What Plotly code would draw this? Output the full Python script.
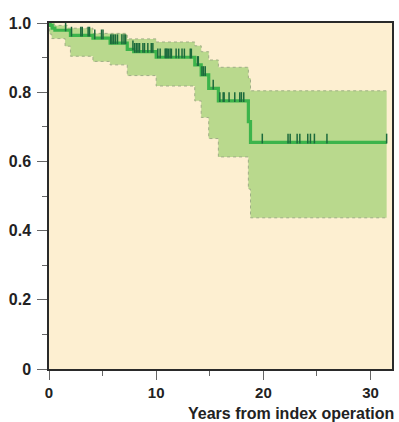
import numpy as np
import plotly.graph_objects as go

# Kaplan-Meier estimate (step times, survival)
km_t = [0, 0.1, 0.3, 0.55, 2.0, 4.1, 5.7, 7.3, 7.9, 10.0, 13.6, 14.2, 14.9, 15.8, 18.6, 18.8, 31.5]
km_s = [1.0, 0.993, 0.985, 0.979, 0.964, 0.956, 0.942, 0.924, 0.917, 0.901, 0.879, 0.850, 0.811, 0.775, 0.715, 0.655, 0.655]

# Upper confidence limit
up_t = [0, 0.5, 1.7, 4.1, 7.2, 7.3, 10.0, 13.6, 14.2, 14.9, 15.8, 18.6, 18.8, 31.5]
up_s = [1.0, 0.993, 0.985, 0.970, 0.965, 0.954, 0.945, 0.934, 0.917, 0.893, 0.872, 0.841, 0.804, 0.804]

# Lower confidence limit
lo_t = [0, 0.05, 0.25, 1.5, 2.0, 4.1, 5.7, 7.3, 10.0, 13.6, 14.2, 14.9, 15.8, 18.6, 18.8, 31.5]
lo_s = [1.0, 0.968, 0.955, 0.933, 0.904, 0.889, 0.879, 0.848, 0.818, 0.775, 0.727, 0.666, 0.613, 0.52, 0.437, 0.437]

# Censored observations (years)
cens_t = [1.55, 2.1, 2.97, 3.1, 3.65, 3.78, 4.27, 4.9, 5.04, 5.76, 5.88, 6.04, 6.2, 6.39,
          6.8, 7.0, 7.15, 7.83, 7.99, 8.15, 8.3, 8.45, 8.76, 8.91, 9.22, 9.54, 9.69,
          10.15, 10.37, 10.84, 10.93, 11.02, 11.14, 11.3, 11.42, 11.86, 12.1, 12.41, 12.63,
          13.18, 13.28, 13.86, 13.93, 14.27, 14.42, 14.58, 15.32, 15.94, 16.25, 16.34,
          16.8, 17.33, 17.8, 17.95, 18.17, 19.9, 22.3, 22.5, 23.15, 23.4, 24.14, 24.39,
          24.76, 25.93, 31.5]

x_ticks = [0, 10, 20, 30]
x_ticktext = ["0", "10", "20", "30"]
y_ticks = [0, 0.2, 0.4, 0.6, 0.8, 1.0]
y_ticktext = ["0", "0.2", "0.4", "0.6", "0.8", "1.0"]

# survival at censor times from step function
idx = np.searchsorted(np.array(km_t), np.array(cens_t), side="right") - 1
cens_s = np.array(km_s)[idx] + 0.011

band_line = dict(color="#9fae86", width=1, dash="dot", shape="hv")

fig = go.Figure()
fig.add_trace(go.Scatter(x=up_t, y=up_s, mode="lines", line=band_line, hoverinfo="skip", showlegend=False))
fig.add_trace(go.Scatter(x=lo_t, y=lo_s, mode="lines", line=band_line, fill="tonexty",
                         fillcolor="#b9d98d", hoverinfo="skip", showlegend=False))
fig.add_trace(go.Scatter(x=km_t, y=km_s, mode="lines", line=dict(color="#3cb44b", width=3.2, shape="hv"),
                         cliponaxis=False, showlegend=False))
fig.add_trace(go.Scatter(x=cens_t, y=cens_s, mode="markers",
                         marker=dict(symbol="line-ns", size=7, line=dict(color="#1c6a3c", width=1.5)),
                         showlegend=False))

tickfont = dict(family="Liberation Sans, Arial", size=16, color="#222", weight="bold")
xtickfont = dict(family="Liberation Sans, Arial", size=15, color="#222", weight="bold")

fig.update_layout(
    width=399, height=422,
    margin=dict(l=49, r=5, t=23, b=53),
    paper_bgcolor="white",
    plot_bgcolor="#fdefd1",
    xaxis=dict(range=[0, 32], tickvals=x_ticks, ticktext=x_ticktext, showgrid=False, zeroline=False,
               showline=True, linecolor="#2a2a2a", linewidth=1.5, mirror=True,
               ticks="outside", ticklen=9, tickwidth=1.2, tickcolor="#666",
               minor=dict(tickvals=[5, 15, 25], ticks="outside", ticklen=5, tickwidth=1.2, tickcolor="#666"),
               tickfont=xtickfont),
    yaxis=dict(range=[0, 1], tickvals=y_ticks, ticktext=y_ticktext, showgrid=False, zeroline=False,
               showline=True, linecolor="#2a2a2a", linewidth=1.5, mirror=True,
               ticks="outside", ticklen=10, tickwidth=1.2, tickcolor="#666", ticklabelstandoff=3,
               minor=dict(tickvals=[0.1, 0.3, 0.5, 0.7, 0.9], ticks="outside", ticklen=5, tickwidth=1.2, tickcolor="#666"),
               tickfont=tickfont),
    annotations=[dict(text="Years from index operation", xref="paper", yref="paper",
                      x=1.008, y=-0.156, xanchor="right", yanchor="bottom", showarrow=False, borderpad=0,
                      font=dict(family="Liberation Sans, Arial", size=16, color="#222", weight="bold"))],
)

fig.write_html("out.html")
